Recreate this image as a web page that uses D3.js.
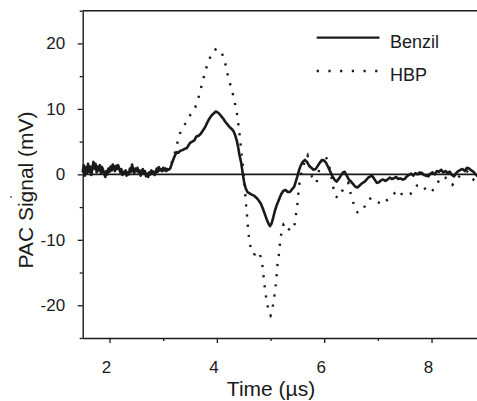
<!DOCTYPE html>
<html><head><meta charset="utf-8">
<script src="https://cdn.jsdelivr.net/npm/d3@7"></script>
<style>body{margin:0;background:#fff;} svg{display:block;font-family:"Liberation Sans",Arial,sans-serif;}</style>
</head><body><svg id="c" width="477" height="401"></svg>
<script>
// ---- data ----
const benzilTime = [1.50,1.52,1.54,1.56,1.58,1.60,1.62,1.64,1.66,1.68,1.70,1.72,1.74,1.76,1.78,1.80,1.82,1.84,1.86,1.88,1.90,1.92,1.94,1.96,1.98,2.00,2.02,2.04,2.06,2.08,2.10,2.12,2.14,2.16,2.18,2.20,2.22,2.24,2.26,2.28,2.30,2.32,2.34,2.36,2.38,2.40,2.42,2.44,2.46,2.48,2.50,2.52,2.54,2.56,2.58,2.60,2.62,2.64,2.66,2.68,2.70,2.72,2.74,2.76,2.78,2.80,2.82,2.84,2.86,2.88,2.90,2.92,2.94,2.96,2.98,3.00,3.02,3.04,3.06,3.08,3.10,
3.13,3.16,3.19,3.22,3.25,3.28,3.32,3.36,3.40,3.44,3.47,3.50,3.54,3.58,3.62,3.66,3.70,3.74,3.78,3.82,3.86,3.90,3.94,3.98,4.01,4.04,4.08,4.12,4.16,4.20,4.24,4.28,4.31,4.34,4.37,4.40,4.42,4.45,4.47,4.49,4.51,4.54,4.57,4.61,4.65,4.70,4.74,4.78,4.82,4.86,4.90,4.93,4.96,4.99,5.02,5.05,5.08,5.12,5.16,5.20,5.24,5.28,5.32,5.36,5.40,5.44,5.47,5.50,5.53,5.56,5.60,5.64,5.68,5.72,5.76,5.80,5.84,5.88,5.92,5.96,6.00,6.04,6.08,6.12,6.16,6.20,6.23,6.27,6.31,6.35,6.38,6.42,6.46,6.50,6.54,6.58,6.62,6.66,6.70,6.74,6.78,6.82,6.86,6.90,6.94,6.98,7.02,7.06,7.10,7.14,7.18,7.22,7.26,7.30,7.34,7.38,7.42,7.46,7.50,7.54,7.58,7.62,7.66,7.70,7.74,7.78,7.82,7.86,7.90,7.94,7.98,8.02,8.06,8.10,8.14,8.18,8.22,8.26,8.30,8.34,8.38,8.42,8.46,8.50,8.54,8.58,8.62,8.66,8.70,8.74,8.78,8.82,8.86,8.90];
const benzilSignal = [0.3,1.4,-0.2,1.1,0.2,1.6,0.4,1.2,-0.1,0.8,1.9,0.9,1.6,0.3,1.2,0.6,1.4,0.2,1.1,0.7,0.1,-0.4,0.5,0.0,0.9,0.4,1.2,0.6,1.5,1.1,0.5,1.3,0.8,1.4,0.9,0.3,0.8,-0.1,0.4,0.2,0.6,-0.2,0.3,0.0,0.9,0.4,1.5,0.7,0.2,0.9,0.5,1.0,0.3,0.6,-0.2,0.4,0.8,0.2,0.5,-0.3,0.1,-0.4,0.3,0.0,0.6,0.1,0.4,-0.1,0.3,0.9,0.4,1.1,0.6,0.8,0.5,1.0,0.6,0.9,0.5,0.8,0.7,
0.9,1.6,2.3,2.9,3.4,3.3,3.6,3.7,3.9,4.0,4.4,4.8,5.0,5.2,5.8,5.9,6.2,6.7,7.2,7.9,8.5,9.0,9.3,9.6,9.5,9.3,8.9,8.5,8.0,7.6,7.2,6.9,6.6,6.0,5.2,4.0,3.0,1.9,0.8,-0.3,-1.3,-2.2,-2.7,-2.9,-3.1,-3.3,-3.6,-4.0,-4.5,-5.3,-6.2,-6.9,-7.5,-7.9,-7.5,-6.6,-5.6,-4.6,-3.8,-3.0,-2.5,-2.4,-2.7,-2.7,-2.3,-1.9,-1.1,-0.3,0.6,1.3,1.9,2.2,1.9,1.3,1.0,0.7,0.8,1.3,1.8,2.2,2.1,1.7,1.0,0.3,-0.4,-0.9,-1.1,-0.7,-0.2,0.3,0.4,-0.2,-0.8,-1.1,-1.5,-1.9,-2.0,-1.7,-1.4,-1.2,-0.9,-0.5,-0.3,-0.3,-0.8,-1.3,-1.2,-0.9,-0.8,-1.0,-0.8,-0.5,-0.7,-0.6,-0.4,-0.7,-0.6,-0.8,-0.7,-0.3,-0.1,0.1,-0.2,0.2,0.0,0.3,0.2,-0.1,-0.2,-0.3,0.1,0.3,0.0,0.5,0.4,0.7,0.3,0.5,0.2,0.4,-0.1,-0.3,0.2,0.5,0.7,0.8,0.5,1.0,0.9,0.6,0.4,0.0,-0.3,0.1];

const hbpTime = [1.50,1.55,1.60,1.65,1.70,1.75,1.80,1.85,1.90,1.95,2.00,2.05,2.10,2.15,2.20,2.25,2.30,2.35,2.40,2.45,2.50,2.55,2.60,2.65,2.70,2.75,2.80,2.85,2.90,2.95,3.00,3.05,3.10,3.15,3.20,
3.24,3.27,3.30,3.35,3.40,3.45,3.50,3.55,3.60,3.64,3.68,3.72,3.76,3.80,3.84,3.88,3.92,3.96,4.00,4.04,4.08,4.12,4.16,4.20,4.24,4.28,4.32,4.36,4.39,4.42,4.45,4.48,4.50,4.52,4.54,4.56,4.58,4.60,4.63,4.67,4.71,4.75,4.79,4.83,4.86,4.88,4.91,4.94,4.97,5.00,5.03,5.06,5.09,5.11,5.13,5.16,5.18,5.21,5.24,5.28,5.32,5.36,5.40,5.44,5.47,5.50,5.52,5.54,5.57,5.61,5.65,5.69,5.73,5.77,5.81,5.86,5.90,5.95,6.01,6.07,6.12,6.16,6.20,6.26,6.32,6.38,6.45,6.50,6.56,6.62,6.66,6.73,6.79,6.88,6.98,7.07,7.16,7.24,7.32,7.38,7.44,7.54,7.64,7.73,7.80,7.85,7.92,8.00,8.09,8.15,8.22,8.31,8.39,8.45,8.55,8.66,8.78,8.83,8.90];
const hbpSignal = [0.5,1.0,0.3,0.9,1.3,0.6,0.9,0.4,0.0,0.3,0.6,1.0,0.7,1.1,0.5,0.2,0.3,-0.1,0.5,0.8,0.6,0.4,0.2,0.4,-0.2,0.2,0.3,0.1,0.6,0.7,0.8,0.7,0.9,1.6,2.8,
4.0,5.0,6.0,7.0,7.6,8.2,9.0,9.6,10.3,11.2,12.4,13.7,15.0,16.2,17.1,18.0,18.7,19.0,19.2,19.1,18.7,18.0,16.8,15.3,14.0,12.9,11.5,9.9,8.4,6.3,4.0,1.6,0.0,-2.0,-4.3,-6.1,-8.2,-9.8,-11.2,-12.2,-12.2,-11.8,-11.9,-13.0,-14.6,-16.5,-18.4,-19.8,-21.3,-21.6,-20.8,-19.3,-17.5,-15.8,-13.8,-12.0,-10.2,-8.5,-7.7,-8.2,-8.7,-8.2,-7.9,-8.1,-6.4,-4.6,-2.8,-1.3,0.0,1.2,2.4,2.9,1.2,-0.3,-1.2,-1.2,0.5,2.2,2.9,2.1,0.3,-1.6,-3.3,-3.6,-2.8,-1.8,-1.3,-3.2,-4.8,-5.8,-5.8,-5.4,-4.1,-3.6,-4.1,-4.6,-4.0,-3.5,-2.8,-2.4,-3.0,-3.3,-2.8,-1.7,-1.5,-1.9,-2.6,-2.7,-1.6,-0.8,-0.3,-0.8,-1.6,-0.9,0.0,0.5,-0.8,-0.3,0.2];

const xMajorTicks = [2, 4, 6, 8];
const xMinorTicks = [3, 5, 7];
const yMajorTicks = [-20, -10, 0, 10, 20];
const yMinorTicks = [-25, -15, -5, 5, 15, 25];
const seriesNames = ["Benzil", "HBP"];
const xTitle = "Time (\u00b5s)";
const yTitle = "PAC Signal (mV)";

// ---- drawing ----
const ink = "#1a1a1a";
const svg = d3.select("#c");
const x = d3.scaleLinear().domain([1.5, 9]).range([82.7, 485.2]);
const y = d3.scaleLinear().domain([-25, 25]).range([338, 10.7]);

const benzil = d3.zip(benzilTime, benzilSignal);
const hbp = d3.zip(hbpTime, hbpSignal);
const line = d3.line().x(d => x(d[0])).y(d => y(d[1]));

// zero line
svg.append("line").attr("x1", x(1.5)).attr("x2", x(9)).attr("y1", y(0)).attr("y2", y(0))
  .attr("stroke", ink).attr("stroke-width", 1.6);

// series
svg.append("path").datum(hbp).attr("d", line).attr("fill", "none")
  .attr("stroke", ink).attr("stroke-width", 2.4).attr("stroke-dasharray", "2.2,8");
svg.append("path").datum(benzil).attr("d", line).attr("fill", "none")
  .attr("stroke", ink).attr("stroke-width", 2.6).attr("stroke-linejoin", "round");

// frame top / right
svg.append("line").attr("x1", x(1.5)).attr("x2", x(9)).attr("y1", y(25)).attr("y2", y(25))
  .attr("stroke", ink).attr("stroke-width", 1.4);
svg.append("line").attr("x1", x(9)).attr("x2", x(9)).attr("y1", y(25)).attr("y2", y(-25))
  .attr("stroke", ink).attr("stroke-width", 1.4);

// axes
const fmt = d => String(d);
const gx = svg.append("g").attr("transform", `translate(0,${y(-25)})`)
  .call(d3.axisBottom(x).tickValues(xMajorTicks).tickFormat(fmt).tickSize(5).tickSizeOuter(0).tickPadding(18));
svg.append("g").attr("transform", `translate(0,${y(-25)})`)
  .call(d3.axisBottom(x).tickValues(xMinorTicks).tickFormat("").tickSize(3).tickSizeOuter(0))
  .select(".domain").remove();
const gy = svg.append("g").attr("transform", `translate(${x(1.5)},0)`)
  .call(d3.axisLeft(y).tickValues(yMajorTicks).tickFormat(fmt).tickSize(5).tickSizeOuter(0).tickPadding(12.5));
svg.append("g").attr("transform", `translate(${x(1.5)},0)`)
  .call(d3.axisLeft(y).tickValues(yMinorTicks).tickFormat("").tickSize(3).tickSizeOuter(0))
  .select(".domain").remove();

svg.selectAll(".domain").attr("stroke", ink).attr("stroke-width", 1.4);
svg.selectAll(".tick line").attr("stroke", ink).attr("stroke-width", 1.3);
svg.selectAll(".tick text").attr("fill", ink).attr("font-size", 17)
  .attr("font-family", '"Liberation Sans", Arial, sans-serif');
gx.selectAll(".tick text").attr("dx", -3.5);

// axis titles
svg.append("text").attr("x", 271).attr("y", 396).attr("text-anchor", "middle")
  .attr("font-size", 21).attr("fill", ink).text(xTitle);
svg.append("text").attr("transform", "translate(32.5,190) rotate(-90)").attr("text-anchor", "middle")
  .attr("font-size", 21).attr("fill", ink).text(yTitle);

// stray mark at left of the y title
svg.append("circle").attr("cx", 11).attr("cy", 197).attr("r", 0.9).attr("fill", "#555");

// legend
const legY = [37.7, 71];
const leg = svg.append("g");
seriesNames.forEach((name, i) => {
  leg.append("line").attr("x1", 316.7).attr("x2", 379.5).attr("y1", legY[i]).attr("y2", legY[i])
    .attr("stroke", ink).attr("stroke-width", i === 0 ? 2.2 : 2.4)
    .attr("stroke-dasharray", i === 0 ? null : "2.2,9.5");
  leg.append("text").attr("x", 390).attr("y", legY[i] + 10).attr("font-size", 18)
    .attr("fill", ink).text(name);
});
</script></body></html>
